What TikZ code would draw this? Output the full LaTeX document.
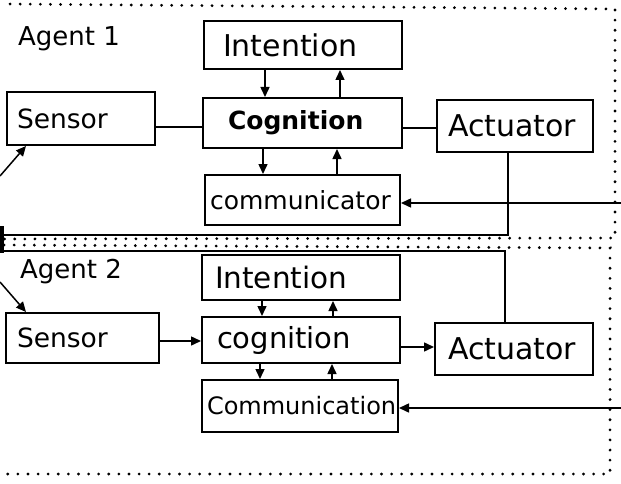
\documentclass[tikz,border=0pt]{standalone}
\usepackage{fontspec}
\setmainfont{DejaVu Sans}
\usetikzlibrary{arrows.meta}
\newcommand{\mybt}[3]{\makebox[#1pt][l]{\hspace*{#2pt}#3}}
\begin{document}
\begin{tikzpicture}[x=1pt,y=-1pt,
  box/.style={draw, line width=2pt, inner sep=0pt, anchor=center},
  conn/.style={line width=1.5pt},
  arr/.style={conn, -{Triangle[length=10pt,width=9pt]}},
  frame/.style={line width=3pt, dash pattern=on 0.1pt off 10pt, line cap=round},
  lbl/.style={font=\fontsize{26}{28}\selectfont, anchor=base west, inner sep=0pt}]
\useasboundingbox (0,0) rectangle (621,484);
\fill[white] (0,0) rectangle (621,484);

% dotted agent frames
\draw[frame] (10,4) -- (615,9) -- (615,238) -- (4,239);
\draw[frame] (4,245) -- (610,248) -- (610,474) -- (4,474);

% labels
\node[lbl] (ag1) at (18,46) {Agent 1};
\node[lbl] (ag2) at (20,278) {Agent 2};

% Agent 1 boxes
\node[box, minimum width=148pt, minimum height=53pt, font=\fontsize{26.5}{28}\selectfont] (sen1) at (81,118.5) {\mybt{148}{10}{Sensor}};
\node[box, minimum width=198pt, minimum height=48pt, font=\fontsize{30}{32}\selectfont] (int1) at (303,45) {\mybt{198}{19}{Intention}};
\node[box, minimum width=199pt, minimum height=50pt, font=\bfseries\fontsize{25}{27}\selectfont] (cog1) at (302.5,123) {\mybt{199}{25}{Cognition}};
\node[box, minimum width=195pt, minimum height=50pt, font=\fontsize{25}{27}\selectfont] (com1) at (302.5,200) {\mybt{195}{5}{communicator}};
\node[box, minimum width=156pt, minimum height=52pt, font=\fontsize{30}{32}\selectfont] (act1) at (515,126) {\mybt{156}{11}{Actuator}};

% Agent 2 boxes
\node[box, minimum width=153pt, minimum height=50pt, font=\fontsize{26.5}{28}\selectfont] (sen2) at (82.5,338) {\mybt{153}{11}{Sensor}};
\node[box, minimum width=198pt, minimum height=45pt, font=\fontsize{29.5}{31}\selectfont] (int2) at (301,277.5) {\mybt{198}{13}{Intention}};
\node[box, minimum width=198pt, minimum height=46pt, font=\fontsize{29}{31}\selectfont] (cog2) at (301,340) {\mybt{198}{15}{cognition}};
\node[box, minimum width=196pt, minimum height=52pt, font=\fontsize{24}{26}\selectfont] (com2) at (300,406) {\mybt{196}{5}{Communication}};
\node[box, minimum width=158pt, minimum height=52pt, font=\fontsize{30}{32}\selectfont] (act2) at (514,349) {\mybt{158}{13}{Actuator}};

% Agent 1 connectors
\draw[conn] (sen1.east |- 0,127) -- (cog1.west |- 0,127);
\draw[arr] (int1.south -| 265,0) -- (cog1.north -| 265,0);
\draw[arr] (cog1.north -| 340,0) -- (int1.south -| 340,0);
\draw[arr] (cog1.south -| 263,0) -- (com1.north -| 263,0);
\draw[arr] (com1.north -| 337,0) -- (cog1.south -| 337,0);
\draw[conn] (cog1.east |- 0,128) -- (act1.west |- 0,128);
\coordinate (j1) at (2,235);
\draw[conn] (act1.south -| 508,0) |- (j1);
\coordinate (e1) at (621,203);
\draw[arr] (e1) -- (com1.east |- e1);

% Agent 2 connectors
\draw[arr] (sen2.east |- 0,341) -- (cog2.west |- 0,341);
\draw[arr] (int2.south -| 262,0) -- (cog2.north -| 262,0);
\draw[arr] (cog2.north -| 333,0) -- (int2.south -| 333,0);
\draw[arr] (cog2.south -| 260,0) -- (com2.north -| 260,0);
\draw[arr] (com2.north -| 332,0) -- (cog2.south -| 332,0);
\draw[arr] (cog2.east |- 0,347) -- (act2.west |- 0,347);
\coordinate (j2) at (2,251);
\draw[conn] (act2.north -| 505,0) |- (j2);
\coordinate (e2) at (621,408);
\draw[arr] (e2) -- (com2.east |- e2);

% left joins and incoming arrows
\coordinate (jt) at (1.8,226);
\coordinate (jb) at (1.8,253);
\draw[line width=3.6pt] (jt) -- (jb);
\coordinate (in1) at (0,176);
\draw[arr] (in1) -- ([xshift=20pt]sen1.south west);
\coordinate (in2) at (0,282);
\draw[arr] (in2) -- ([xshift=21pt]sen2.north west);
\end{tikzpicture}
\end{document}
